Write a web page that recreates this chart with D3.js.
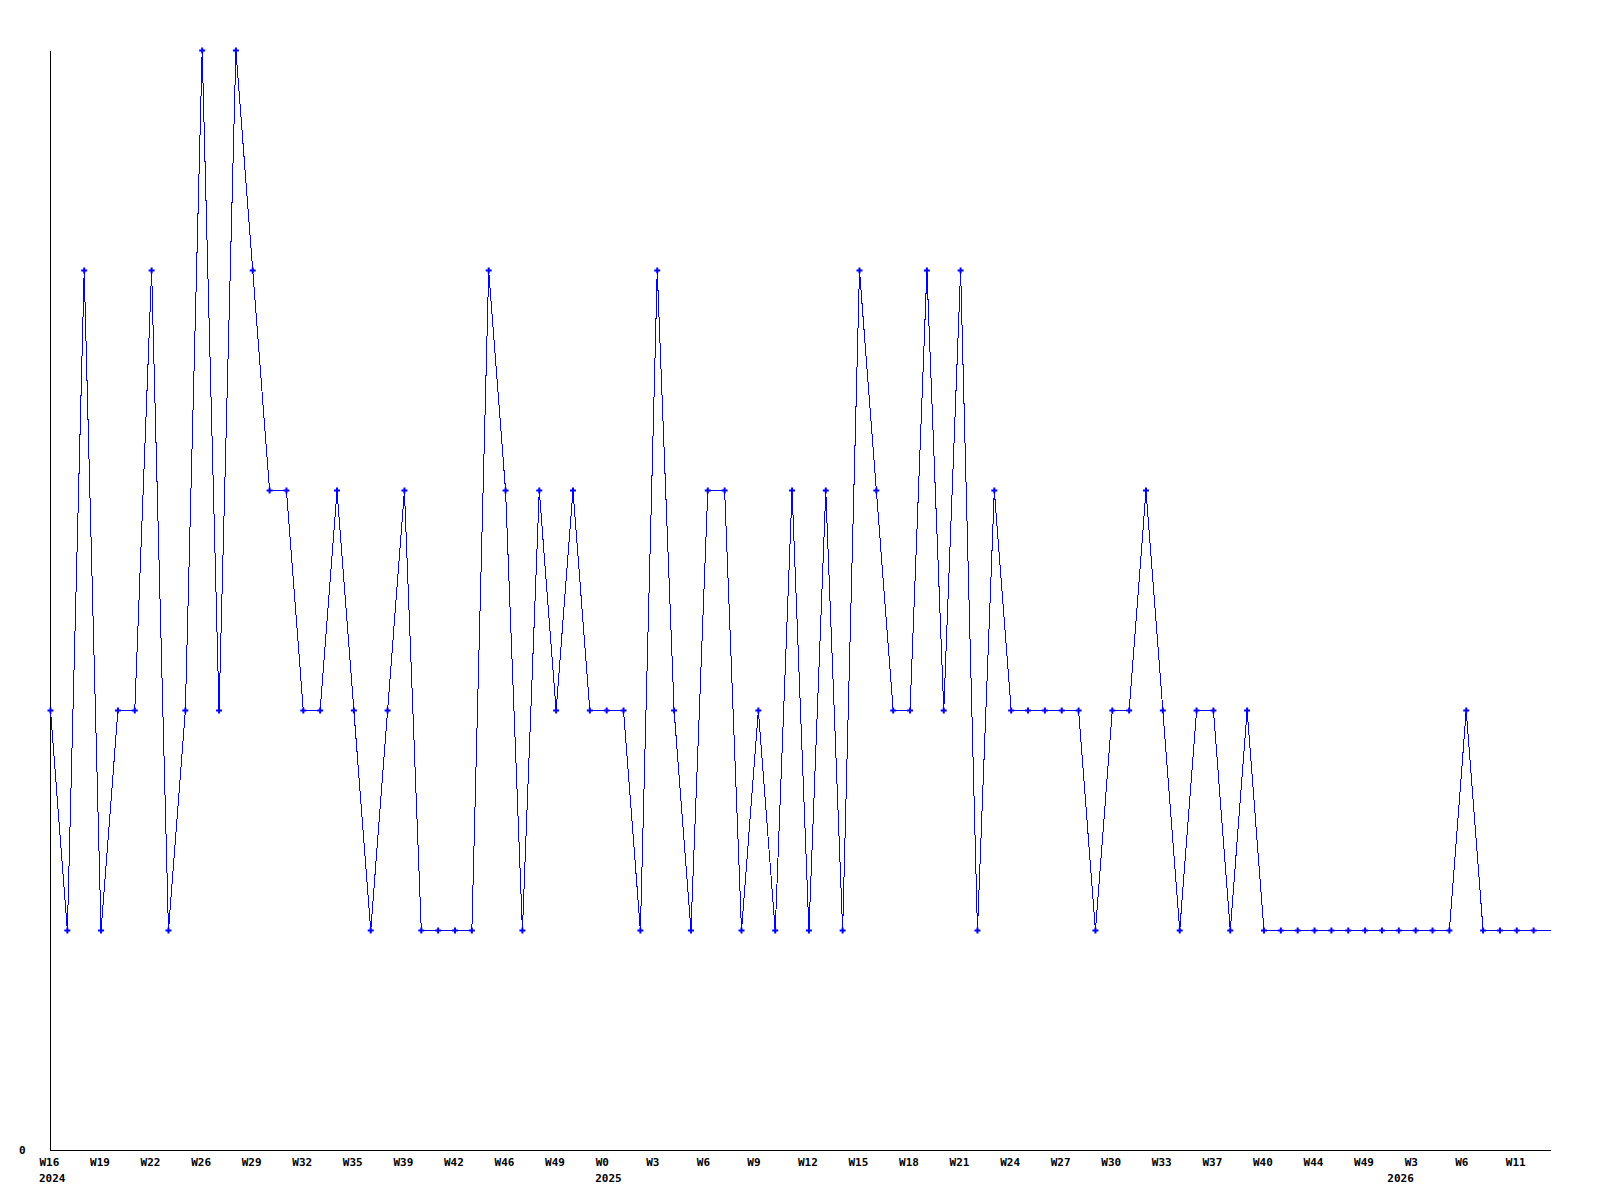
<!DOCTYPE html>
<html>
<head>
<meta charset="utf-8">
<script src="https://cdn.jsdelivr.net/npm/d3@7"></script>
<style>
  html, body { margin: 0; padding: 0; background: #fff; }
  svg { display: block; }
  .lbl { font-family: "DejaVu Sans Mono", "Liberation Mono", monospace; font-weight: bold; font-size: 11px; fill: #000; }
</style>
</head>
<body>
<svg id="chart" width="1600" height="1200"></svg>
<script>
// Weekly values, one per point (90 points)
const values = [
  2, 1, 4, 1, 2, 2, 4, 1, 2, 5,
  2, 5, 4, 3, 3, 2, 2, 3, 2, 1,
  2, 3, 1, 1, 1, 1, 4, 3, 1, 3,
  2, 3, 2, 2, 2, 1, 4, 2, 1, 3,
  3, 1, 2, 1, 3, 1, 3, 1, 4, 3,
  2, 2, 4, 2, 4, 1, 3, 2, 2, 2,
  2, 2, 1, 2, 2, 3, 2, 1, 2, 2,
  1, 2, 1, 1, 1, 1, 1, 1, 1, 1,
  1, 1, 1, 1, 2, 1, 1, 1, 1, 1
];
// Tick labels, shown on every third point
const tickLabels = [
  "W16","W19","W22","W26","W29","W32","W35","W39","W42","W46",
  "W49","W0","W3","W6","W9","W12","W15","W18","W21","W24",
  "W27","W30","W33","W37","W40","W44","W49","W3","W6","W11"
];
const tickStep = 3;
// Year labels and the index of the first point of each year
const yearNames = ["2024", "2025", "2026"];
const yearStartIndex = [0, 33, 80];
const yTicks = [0];

(function () {
const svg = d3.select("#chart");
const pL = 50, pR = 1550, pT = 50, pB = 1150;

const x = d3.scaleLinear().domain([0, values.length - 1]).range([pL, pR]);
const y = d3.scaleLinear().domain([0, 5]).range([pB, pT]);

const g = svg.append("g").attr("transform", "translate(0.5,0.5)");

// Axes lines
g.append("line").attr("x1", pL).attr("x2", pL).attr("y1", pT).attr("y2", pB)
  .attr("stroke", "#000").attr("stroke-width", 1).attr("shape-rendering", "crispEdges");
g.append("line").attr("x1", pL).attr("x2", pR).attr("y1", pB).attr("y2", pB)
  .attr("stroke", "#000").attr("stroke-width", 1).attr("shape-rendering", "crispEdges");

// X axis labels via d3 axis
const tickIdx = tickLabels.map((_, i) => i * tickStep);
const xAxis = d3.axisBottom(x).tickValues(tickIdx)
  .tickFormat((d, i) => tickLabels[i]).tickSize(0);
const xg = svg.append("g").attr("transform", `translate(0,${pB})`).call(xAxis);
xg.select(".domain").remove();
xg.attr("font-family", null).attr("font-size", null);
xg.selectAll("text").attr("class", "lbl").attr("text-anchor", "start")
  .attr("x", -11).attr("y", 16).attr("dy", null).attr("fill", null);

// Year labels
svg.append("g").selectAll("text").data(yearNames).join("text")
  .attr("class", "lbl")
  .attr("x", (d, i) => x(yearStartIndex[i]) - 11)
  .attr("y", pB + 31.5)
  .text(d => d);

// Y axis label "0"
const yAxis = d3.axisLeft(y).tickValues(yTicks).tickFormat(d3.format("d")).tickSize(0);
const yg = svg.append("g").attr("transform", `translate(${pL},0)`).call(yAxis);
yg.select(".domain").remove();
yg.attr("font-family", null).attr("font-size", null);
yg.selectAll("text").attr("class", "lbl").attr("text-anchor", "start")
  .attr("x", -31).attr("dy", null).attr("y", 3.5).attr("fill", null);

// Line
const line = d3.line().x((d, i) => x(i)).y(d => y(d));
g.append("path").datum(values)
  .attr("d", line)
  .attr("fill", "none")
  .attr("stroke", "#0000ff")
  .attr("stroke-width", 1)
  .attr("shape-rendering", "crispEdges");

// Markers (all but the final point)
const cross = d3.symbol().type(d3.symbolCross).size(20);
g.append("g").selectAll("path")
  .data(values.slice(0, values.length - 1))
  .join("path")
  .attr("d", cross)
  .attr("transform", (d, i) => `translate(${x(i)},${y(d)})`)
  .attr("fill", "#0000ff");
})();
</script>
</body>
</html>
